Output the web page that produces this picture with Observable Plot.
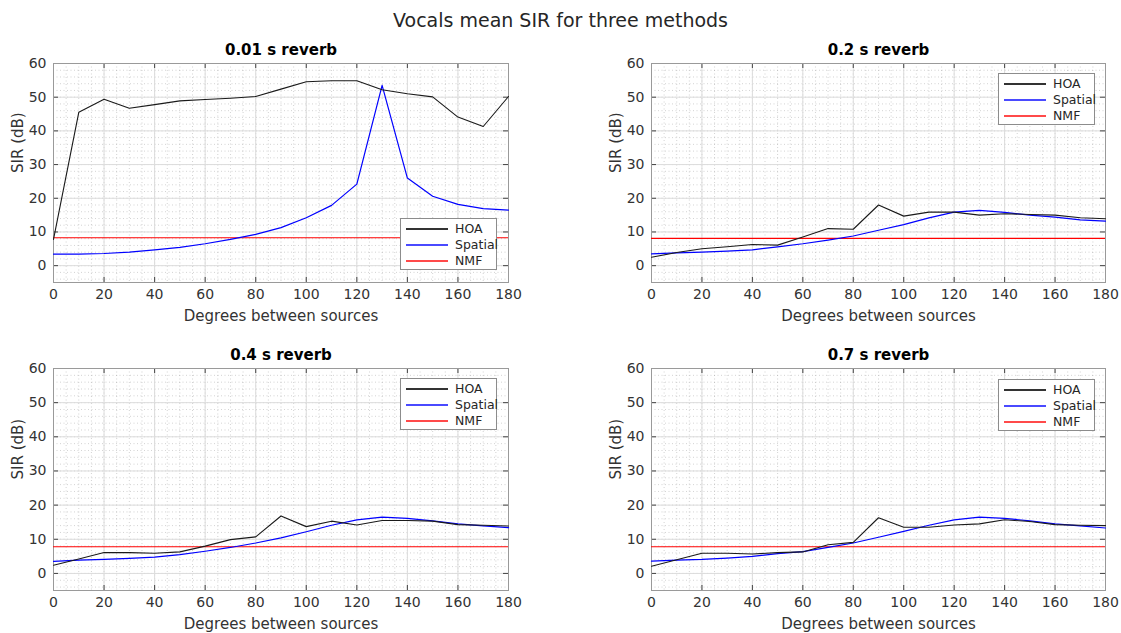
<!DOCTYPE html>
<html><head><meta charset="utf-8">
<script src="https://cdn.jsdelivr.net/npm/d3@7"></script>
<script src="https://cdn.jsdelivr.net/npm/@observablehq/plot@0.6"></script>
<style>
body{margin:0;background:#fff;}
#fig{position:relative;width:1121px;height:633px;font-family:"DejaVu Sans",sans-serif;color:#262626;overflow:hidden;background:#fff}
#title{position:absolute;left:0;width:1121px;top:9px;text-align:center;font-size:19px;line-height:22px}
.panel{position:absolute}
.panel svg{max-width:none}
.legend{position:absolute;background:#fff;border:1px solid #8c8c8c;font-size:12.5px;box-sizing:border-box;padding:2px 0 0 5px}
.legend .row{height:16px;line-height:16px;white-space:nowrap;display:flex;align-items:center}
.legend .sw{width:42px;height:1.3px;margin-right:7px;flex:none}
</style>
</head><body>
<div id="fig"><div id="title">Vocals mean SIR for three methods</div></div>
<script>
const degrees = [0,10,20,30,40,50,60,70,80,90,100,110,120,130,140,150,160,170,180];
const xTicks = [0,20,40,60,80,100,120,140,160,180];
const yTicks = [0,10,20,30,40,50,60];
const methods = ["HOA","Spatial","NMF"];
const methodColors = ["#000000","#0000ff","#ff0000"];
const panelTitles = ["0.01 s reverb","0.2 s reverb","0.4 s reverb","0.7 s reverb"];

const hoa001 = [7.8,45.5,49.4,46.7,47.8,48.9,49.3,49.7,50.2,52.4,54.6,54.9,54.9,52.2,51.0,50.1,44.1,41.3,50.2];
const spatial001 = [3.4,3.4,3.6,4.0,4.7,5.4,6.5,7.8,9.3,11.3,14.2,17.9,24.2,53.5,26.0,20.6,18.2,16.9,16.5];
const nmf001 = 8.3;

const hoa02 = [2.5,3.9,5.0,5.6,6.3,6.1,8.5,11.0,10.8,18.0,14.7,15.9,15.9,15.0,15.4,15.2,15.0,14.2,13.9];
const spatial02 = [3.5,3.8,4.0,4.3,4.7,5.6,6.5,7.6,8.8,10.5,12.2,14.2,15.9,16.4,15.8,15.0,14.4,13.6,13.2];
const nmf02 = 8.1;

const hoa04 = [2.4,4.2,6.1,6.1,5.9,6.3,8.0,9.9,10.7,16.8,13.7,15.3,14.2,15.5,15.5,15.3,14.3,14.1,13.9];
const spatial04 = [3.5,3.9,4.1,4.4,4.8,5.5,6.5,7.6,8.9,10.4,12.2,14.1,15.7,16.5,16.1,15.4,14.5,13.9,13.4];
const nmf04 = 7.8;

const hoa07 = [2.1,4.0,5.9,5.9,5.7,6.1,6.3,8.4,9.1,16.3,13.5,13.5,14.2,14.5,15.7,15.2,14.3,14.1,14.0];
const spatial07 = [3.6,3.9,4.1,4.5,5.0,5.8,6.4,7.6,8.9,10.6,12.3,14.1,15.7,16.5,16.1,15.4,14.5,13.9,13.3];
const nmf07 = 7.8;

const fig = document.getElementById("fig");

function makePanel(title, hoa, spatial, nmf, layout) {
  const {left, top, width, height, mt, mb, ml, mr, legend} = layout;
  const plotW = width - ml - mr, plotH = height - mt - mb;
  const xMinor = d3.range(0, 181, 5);
  const yMinor = d3.range(-4, 61, 2);
  const rows = degrees.map((d, i) => ({d, hoa: hoa[i], spatial: spatial[i]}));
  const chart = Plot.plot({
    width, height, marginLeft: ml, marginRight: mr, marginTop: mt, marginBottom: mb,
    style: {fontFamily: "DejaVu Sans, sans-serif", fontSize: "14px", color: "#262626", background: "transparent", overflow: "visible", maxWidth: "none"},
    x: {domain: [0, 180], ticks: xTicks, tickSize: 0, tickPadding: 7, label: null},
    y: {domain: [-5, 60], ticks: yTicks, tickSize: 0, tickPadding: 7, label: null},
    marks: [
      Plot.ruleX(xMinor, {x: d => d, stroke: "#9a9a9a", strokeOpacity: 0.55, strokeDasharray: "1,2.5", strokeWidth: 0.8}),
      Plot.ruleY(yMinor, {y: d => d, stroke: "#9a9a9a", strokeOpacity: 0.55, strokeDasharray: "1,2.5", strokeWidth: 0.8}),
      Plot.ruleX(xTicks, {x: d => d, stroke: "#dcdcdc", strokeWidth: 1}),
      Plot.ruleY(yTicks, {y: d => d, stroke: "#dcdcdc", strokeWidth: 1}),
      Plot.tickX(xTicks, {x: d => d, insetTop: plotH - 5, stroke: "#444"}),
      Plot.tickX(xTicks, {x: d => d, insetBottom: plotH - 5, stroke: "#444"}),
      Plot.tickY(yTicks, {y: d => d, insetRight: plotW - 5, stroke: "#444"}),
      Plot.tickY(yTicks, {y: d => d, insetLeft: plotW - 5, stroke: "#444"}),
      Plot.frame({stroke: "#9a9a9a"}),
      Plot.axisX({ticks: xTicks, tickSize: 0, tickPadding: 7, fontSize: 14, fill: "#333", label: null}),
      Plot.axisY({ticks: yTicks, tickSize: 0, tickPadding: 7, fontSize: 14, fill: "#333", label: null}),
      Plot.ruleY([nmf], {y: d => d, stroke: methodColors[2], strokeWidth: 1.1}),
      Plot.line(rows, {x: "d", y: "spatial", stroke: methodColors[1], strokeWidth: 1.2}),
      Plot.line(rows, {x: "d", y: "hoa", stroke: "#1a1a1a", strokeWidth: 1.1}),
      Plot.text([title], {frameAnchor: "top", dy: -9, lineAnchor: "bottom", fontWeight: "bold", fontSize: 15, fill: "#000"}),
      Plot.text(["Degrees between sources"], {frameAnchor: "bottom", dy: 34, lineAnchor: "middle", fontSize: 15, fill: "#333"}),
      Plot.text(["SIR (dB)"], {frameAnchor: "left", dx: -35, rotate: -90, lineAnchor: "middle", fontSize: 15, fill: "#333"})
    ]
  });
  const wrap = document.createElement("div");
  wrap.className = "panel";
  wrap.style.left = left + "px";
  wrap.style.top = top + "px";
  wrap.style.width = width + "px";
  wrap.style.height = height + "px";
  wrap.appendChild(chart);
  fig.appendChild(wrap);

  const lg = document.createElement("div");
  lg.className = "legend";
  lg.style.left = legend[0] + "px";
  lg.style.top = legend[1] + "px";
  lg.style.width = "97px";
  lg.style.height = "52px";
  methods.forEach((m, i) => {
    const r = document.createElement("div");
    r.className = "row";
    const sw = document.createElement("div");
    sw.className = "sw";
    sw.style.background = i === 0 ? "#333" : (i === 1 ? "#4a4aff" : "#ff4a4a");
    r.appendChild(sw);
    const t = document.createElement("span");
    t.textContent = m;
    r.appendChild(t);
    lg.appendChild(r);
  });
  fig.appendChild(lg);
}

const topRow = {top: 30, height: 300, mt: 33, mb: 48};
const botRow = {top: 336, height: 297, mt: 32, mb: 43};
makePanel(panelTitles[0], hoa001, spatial001, nmf001, {left: 0, width: 560, ml: 53, mr: 52, ...topRow, legend: [400, 218]});
makePanel(panelTitles[1], hoa02, spatial02, nmf02, {left: 598, width: 560, ml: 53, mr: 53, ...topRow, legend: [998, 73]});
makePanel(panelTitles[2], hoa04, spatial04, nmf04, {left: 0, width: 560, ml: 53, mr: 52, ...botRow, legend: [400, 378]});
makePanel(panelTitles[3], hoa07, spatial07, nmf07, {left: 598, width: 560, ml: 53, mr: 53, ...botRow, legend: [998, 379]});
</script>
</body></html>
